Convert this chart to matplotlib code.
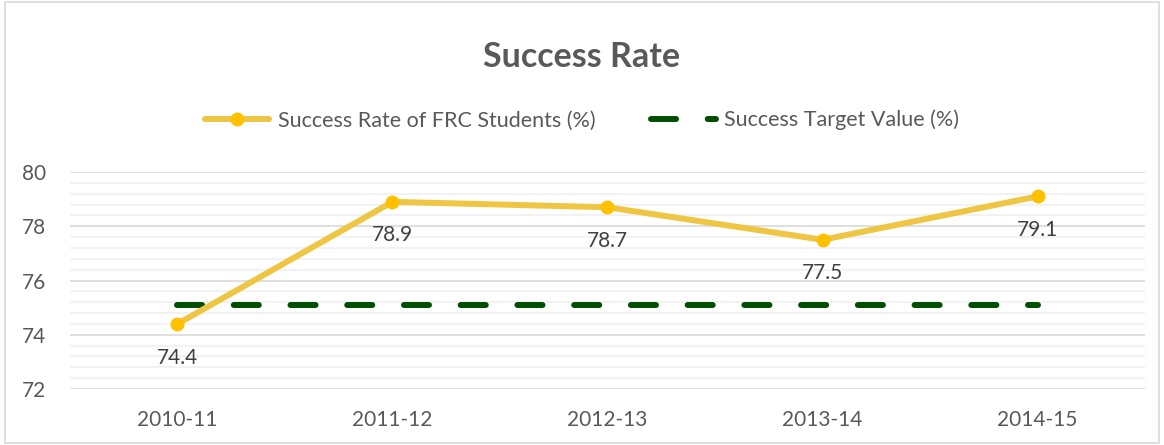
import matplotlib
matplotlib.use("Agg")
import matplotlib.pyplot as plt
from matplotlib.patches import Rectangle
from matplotlib.ticker import MultipleLocator

plt.rcParams['font.family'] = ['Lato', 'DejaVu Sans']

years = ["2010-11", "2011-12", "2012-13", "2013-14", "2014-15"]
success_rate = [74.4, 78.9, 78.7, 77.5, 79.1]
target_value = [75.1, 75.1, 75.1, 75.1, 75.1]

txt = '#595959'
x = list(range(len(years)))

fig = plt.figure(figsize=(11.64, 4.45), dpi=100)
ax = fig.add_axes([0.0601, 0.1258, 0.9236, 0.4877])

# outer chart border
fig.patches.append(Rectangle((0.004, 0.004), 0.992, 0.992, transform=fig.transFigure,
                             fill=False, edgecolor='#D9D9D9', linewidth=1.2))

ax.plot(x, target_value, color='#004E00', linewidth=4.3, dashes=(4.2, 5.3),
        dash_capstyle='round', label='Success Target Value (%)', zorder=3)
ax.plot(x, success_rate, color='#EEC643', linewidth=4.3, marker='o', markersize=9,
        markerfacecolor='#FFC000', markeredgecolor='#FFC000',
        solid_capstyle='round', label='Success Rate of FRC Students (%)', zorder=4)

for xi, v in zip(x, success_rate):
    ax.annotate(f"{v}", (xi, v), xytext=(0, -17), textcoords='offset points',
                ha='center', va='top', fontsize=15, color='#404040')

ax.set_xlim(-0.5, 4.5)
ax.set_ylim(72, 80)
ax.yaxis.set_major_locator(MultipleLocator(2))
ax.yaxis.set_minor_locator(MultipleLocator(0.4))
ax.set_xticks(x)
ax.set_xticklabels(years)
ax.tick_params(axis='both', which='both', length=0, labelsize=15, colors=txt)
ax.tick_params(axis='y', pad=17)
ax.tick_params(axis='x', pad=15)
ax.grid(which='major', axis='y', color='#D9D9D9', linewidth=1.2)
ax.grid(which='minor', axis='y', color='#F2F2F2', linewidth=1.5)
ax.set_axisbelow(True)
for s in ax.spines.values():
    s.set_visible(False)

handles, labels = ax.get_legend_handles_labels()
fig.legend(handles[::-1], labels[::-1], loc='center', bbox_to_anchor=(0.5, 0.73), ncol=2,
           frameon=False, fontsize=15.5, labelcolor=txt, handlelength=3.0,
           handletextpad=0.4, columnspacing=2.6)

fig.text(0.5, 0.872, "Success Rate", ha='center', va='center', fontsize=24.5,
         fontweight='bold', color=txt)

fig.savefig("out.png", dpi=100)
